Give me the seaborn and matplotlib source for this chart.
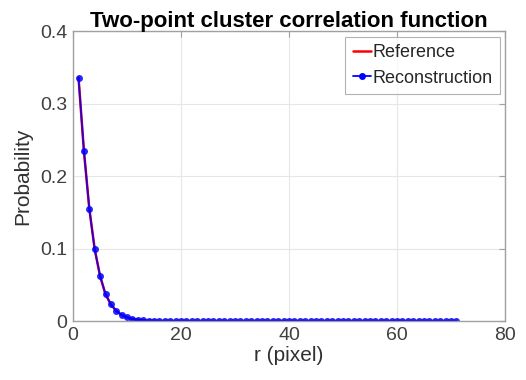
import matplotlib
matplotlib.use("Agg")
import matplotlib.pyplot as plt
import seaborn as sns
import pandas as pd

# Two-point cluster correlation S2(r) for r = 1..71 pixels
r_pixel = list(range(1, 72))
reference = [0.336, 0.235, 0.155, 0.099, 0.062, 0.037, 0.023, 0.014, 0.0085, 0.005,
             0.003, 0.0018, 0.001, 0.0006, 0.0003, 0.0002, 0.0001, 0.0, 0.0, 0.0,
             0.0, 0.0, 0.0, 0.0, 0.0, 0.0, 0.0, 0.0, 0.0, 0.0,
             0.0, 0.0, 0.0, 0.0, 0.0, 0.0, 0.0, 0.0, 0.0, 0.0,
             0.0, 0.0, 0.0, 0.0, 0.0, 0.0, 0.0, 0.0, 0.0, 0.0,
             0.0, 0.0, 0.0, 0.0, 0.0, 0.0, 0.0, 0.0, 0.0, 0.0,
             0.0, 0.0, 0.0, 0.0, 0.0, 0.0, 0.0, 0.0, 0.0, 0.0,
             0.0]
reconstruction = [0.336, 0.235, 0.155, 0.099, 0.062, 0.037, 0.023, 0.014, 0.0085, 0.005,
                  0.003, 0.0018, 0.001, 0.0006, 0.0003, 0.0002, 0.0001, 0.0, 0.0, 0.0,
                  0.0, 0.0, 0.0, 0.0, 0.0, 0.0, 0.0, 0.0, 0.0, 0.0,
                  0.0, 0.0, 0.0, 0.0, 0.0, 0.0, 0.0, 0.0, 0.0, 0.0,
                  0.0, 0.0, 0.0, 0.0, 0.0, 0.0, 0.0, 0.0, 0.0, 0.0,
                  0.0, 0.0, 0.0, 0.0, 0.0, 0.0, 0.0, 0.0, 0.0, 0.0,
                  0.0, 0.0, 0.0, 0.0, 0.0, 0.0, 0.0, 0.0, 0.0, 0.0,
                  0.0]
x_ticks = [0, 20, 40, 60, 80]
y_ticks = [0, 0.1, 0.2, 0.3, 0.4]

df = pd.DataFrame({"r": r_pixel, "Reference": reference, "Reconstruction": reconstruction})

sns.set_style("white")
plt.rcParams["font.family"] = ["Liberation Sans", "DejaVu Sans"]

fig = plt.figure(figsize=(5.26, 3.8), dpi=100)
ax = fig.add_axes([0.139, 0.155, 0.821, 0.763])

sns.lineplot(data=df, x="r", y="Reference", ax=ax, color="#ff0000", lw=1.8, label="Reference")
sns.lineplot(data=df, x="r", y="Reconstruction", ax=ax, color="#0000ff", lw=1.3, alpha=0.85,
             marker="o", markersize=5, markeredgewidth=0, label="Reconstruction")

ax.set_xlim(0, 80)
ax.set_ylim(0, 0.4)
ax.set_xticks(x_ticks)
ax.set_yticks(y_ticks)
ax.set_xticklabels([str(t) for t in x_ticks])
ax.set_yticklabels(["0", "0.1", "0.2", "0.3", "0.4"])
ax.grid(True, color="#e6e6e6", lw=0.8)
for s in ax.spines.values():
    s.set_color("#a0a0a0")
    s.set_linewidth(1.0)
    s.set_visible(True)
ax.tick_params(direction="in", length=4, color="#a0a0a0", labelsize=14,
               labelcolor="#404040", top=True, right=True, pad=4)

ax.set_xlabel("r (pixel)", fontsize=15, color="#303030", labelpad=2)
ax.set_ylabel("Probability", fontsize=15, color="#303030", labelpad=6)
ax.set_title("Two-point cluster correlation function", fontsize=16, fontweight="bold",
             color="black", pad=3)

leg = ax.legend(loc="upper right", fontsize=13, handlelength=1.0, handletextpad=0.1,
                borderpad=0.4, labelspacing=0.45, frameon=True, fancybox=False,
                borderaxespad=0, bbox_to_anchor=(0.988, 0.979))
leg.get_frame().set_edgecolor("#a0a0a0")
leg.get_frame().set_linewidth(0.8)
for h in leg.get_lines():
    h.set_alpha(1.0)

fig.savefig("out.png", dpi=100, facecolor="white")
